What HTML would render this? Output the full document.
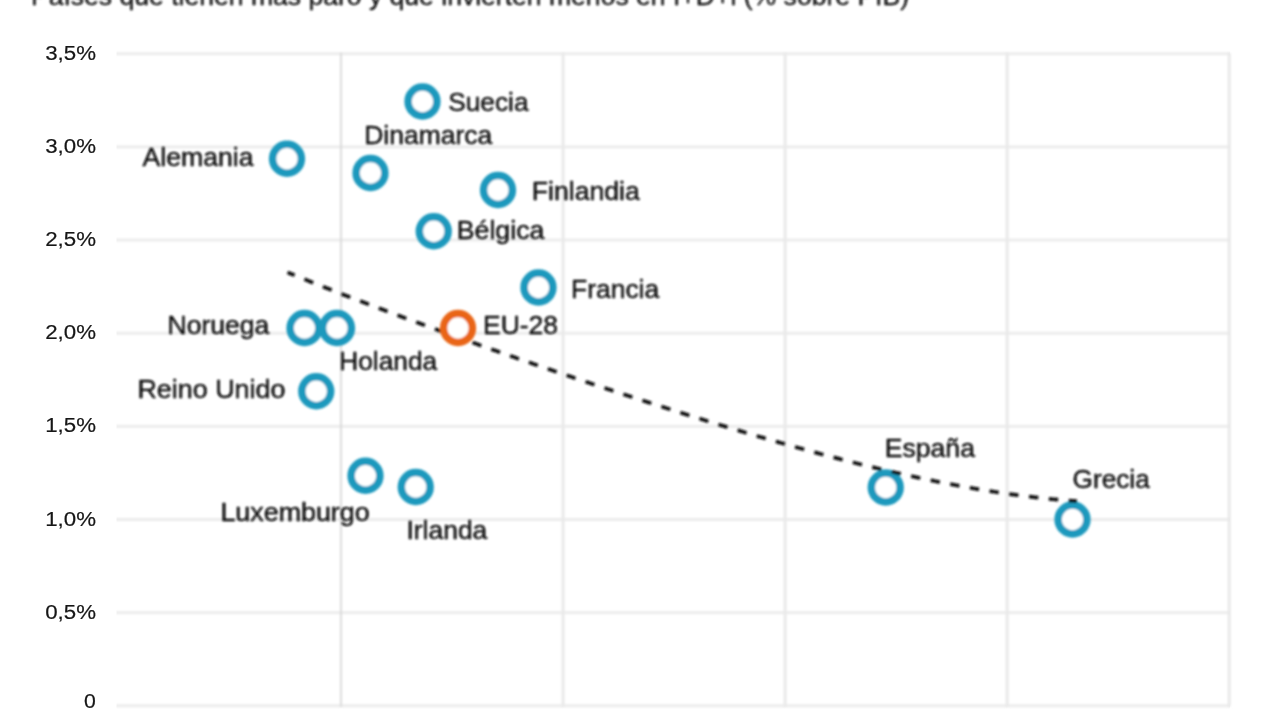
<!DOCTYPE html>
<html lang="es"><head><meta charset="utf-8"><title>I+D+i y paro</title>
<style>html,body{margin:0;padding:0;background:#fff;overflow:hidden}body{width:1280px;height:720px;position:relative;font-family:"Liberation Sans",sans-serif}svg{position:absolute;left:0;top:0;display:block}text{font-family:"Liberation Sans",sans-serif;fill:#0c0c0c;stroke:#0c0c0c;stroke-width:0.4px;stroke-linejoin:round}</style></head><body>
<svg width="1280" height="720" viewBox="0 0 1280 720">
<defs><filter id="b" x="-5%" y="-5%" width="110%" height="110%"><feGaussianBlur stdDeviation="0.8"/></filter><filter id="b2" x="-5%" y="-5%" width="110%" height="110%"><feGaussianBlur stdDeviation="0.6"/></filter><filter id="bh" x="-1%" y="-200%" width="102%" height="500%"><feGaussianBlur stdDeviation="0 1.1"/></filter></defs>
<rect width="1280" height="720" fill="#ffffff"/>
<g filter="url(#bh)">
<rect x="116.5" y="52.35" width="1113.5" height="2.8" fill="#ebebeb"/>
<rect x="116.5" y="145.50" width="1113.5" height="2.8" fill="#ebebeb"/>
<rect x="116.5" y="238.65" width="1113.5" height="2.8" fill="#ebebeb"/>
<rect x="116.5" y="331.80" width="1113.5" height="2.8" fill="#ebebeb"/>
<rect x="116.5" y="424.95" width="1113.5" height="2.8" fill="#ebebeb"/>
<rect x="116.5" y="518.10" width="1113.5" height="2.8" fill="#ebebeb"/>
<rect x="116.5" y="611.25" width="1113.5" height="2.8" fill="#ebebeb"/>
<rect x="116.5" y="704.40" width="1113.5" height="2.8" fill="#ebebeb"/>
</g>
<g filter="url(#b)">
<rect x="340.15" y="53" width="1.7" height="653.5" fill="#d8d8d8"/>
<rect x="561.55" y="53" width="3" height="653.5" fill="#e9e9e9"/>
<rect x="783.60" y="53" width="3" height="653.5" fill="#e9e9e9"/>
<rect x="1005.65" y="53" width="3" height="653.5" fill="#e9e9e9"/>
<rect x="1227.70" y="53" width="3" height="653.5" fill="#e9e9e9"/>
</g>
<g filter="url(#b2)">
<text transform="translate(45.21 59.85) scale(1.0760 1)" font-size="20.70" style="stroke-width:0.2px;fill:#161616;stroke:#161616">3,5%</text>
<text transform="translate(45.21 153.00) scale(1.0760 1)" font-size="20.70" style="stroke-width:0.2px;fill:#161616;stroke:#161616">3,0%</text>
<text transform="translate(45.21 246.15) scale(1.0760 1)" font-size="20.70" style="stroke-width:0.2px;fill:#161616;stroke:#161616">2,5%</text>
<text transform="translate(45.21 339.30) scale(1.0760 1)" font-size="20.70" style="stroke-width:0.2px;fill:#161616;stroke:#161616">2,0%</text>
<text transform="translate(45.21 432.45) scale(1.0760 1)" font-size="20.70" style="stroke-width:0.2px;fill:#161616;stroke:#161616">1,5%</text>
<text transform="translate(45.21 525.60) scale(1.0760 1)" font-size="20.70" style="stroke-width:0.2px;fill:#161616;stroke:#161616">1,0%</text>
<text transform="translate(45.21 618.75) scale(1.0760 1)" font-size="20.70" style="stroke-width:0.2px;fill:#161616;stroke:#161616">0,5%</text>
<text transform="translate(84.05 708.40) scale(1.0266 1)" font-size="20.70" style="stroke-width:0.2px;fill:#161616;stroke:#161616">0</text>
</g>
<g filter="url(#b)">
<text transform="translate(30.97 4.70) scale(1.0025 1)" font-size="26.50" style="stroke-width:0.3px">Países que tienen más paro y que invierten menos en I+D+i (% sobre PIB)</text>
<circle cx="422.50" cy="101.50" r="14.4" fill="#ffffff" stroke="#1f99bd" stroke-width="7.5"/>
<circle cx="287.00" cy="158.75" r="14.4" fill="#ffffff" stroke="#1f99bd" stroke-width="7.5"/>
<circle cx="370.50" cy="173.00" r="14.4" fill="#ffffff" stroke="#1f99bd" stroke-width="7.5"/>
<circle cx="498.00" cy="190.00" r="14.4" fill="#ffffff" stroke="#1f99bd" stroke-width="7.5"/>
<circle cx="433.75" cy="231.25" r="14.4" fill="#ffffff" stroke="#1f99bd" stroke-width="7.5"/>
<circle cx="538.50" cy="287.50" r="14.4" fill="#ffffff" stroke="#1f99bd" stroke-width="7.5"/>
<circle cx="304.50" cy="328.00" r="14.4" fill="#ffffff" stroke="#1f99bd" stroke-width="7.5"/>
<circle cx="337.00" cy="328.00" r="14.4" fill="#ffffff" stroke="#1f99bd" stroke-width="7.5"/>
<circle cx="316.25" cy="391.25" r="14.4" fill="#ffffff" stroke="#1f99bd" stroke-width="7.5"/>
<circle cx="365.50" cy="475.75" r="14.4" fill="#ffffff" stroke="#1f99bd" stroke-width="7.5"/>
<circle cx="415.75" cy="487.00" r="14.4" fill="#ffffff" stroke="#1f99bd" stroke-width="7.5"/>
<circle cx="885.75" cy="487.50" r="14.4" fill="#ffffff" stroke="#1f99bd" stroke-width="7.5"/>
<circle cx="1072.50" cy="519.50" r="14.4" fill="#ffffff" stroke="#1f99bd" stroke-width="7.5"/>
<path d="M287.50 272.38 L289.48 273.19 L291.46 273.99 L293.44 274.80 L295.41 275.60 L297.39 276.40 L299.37 277.20 L301.35 278.00 L303.33 278.79 L305.31 279.59 L307.29 280.38 L309.27 281.17 L311.24 281.96 L313.22 282.75 L315.20 283.54 L317.18 284.33 L319.16 285.11 L321.14 285.89 L323.12 286.68 L325.10 287.46 L327.07 288.24 L329.05 289.01 L331.03 289.79 L333.01 290.57 L334.99 291.34 L336.97 292.11 L338.95 292.89 L340.92 293.66 L342.90 294.43 L344.88 295.19 L346.86 295.96 L348.84 296.73 L350.82 297.49 L352.80 298.25 L354.78 299.02 L356.75 299.78 L358.73 300.54 L360.71 301.29 L362.69 302.05 L364.67 302.81 L366.65 303.56 L368.63 304.32 L370.61 305.07 L372.58 305.82 L374.56 306.57 L376.54 307.32 L378.52 308.07 L380.50 308.82 L382.48 309.56 L384.46 310.31 L386.43 311.05 L388.41 311.80 L390.39 312.54 L392.37 313.28 L394.35 314.02 L396.33 314.76 L398.31 315.50 L400.29 316.23 L402.26 316.97 L404.24 317.71 L406.22 318.44 L408.20 319.17 L410.18 319.91 L412.16 320.64 L414.14 321.37 L416.12 322.10 L418.09 322.83 L420.07 323.55 L422.05 324.28 L424.03 325.01 L426.01 325.73 L427.99 326.46 L429.97 327.18 L431.94 327.90 L433.92 328.62 L435.90 329.35 L437.88 330.07 L439.86 330.78 L441.84 331.50 L443.82 332.22 L445.80 332.94 L447.77 333.65 L449.75 334.37 L451.73 335.08 L453.71 335.79 L455.69 336.51 L457.67 337.22 L459.65 337.93 L461.63 338.64 L463.60 339.35 L465.58 340.06 L467.56 340.77 L469.54 341.47 L471.52 342.18 L473.50 342.88 L475.48 343.59 L477.45 344.29 L479.43 345.00 L481.41 345.70 L483.39 346.40 L485.37 347.10 L487.35 347.80 L489.33 348.50 L491.31 349.20 L493.28 349.90 L495.26 350.60 L497.24 351.29 L499.22 351.99 L501.20 352.68 L503.18 353.38 L505.16 354.07 L507.14 354.76 L509.11 355.46 L511.09 356.15 L513.07 356.84 L515.05 357.53 L517.03 358.22 L519.01 358.91 L520.99 359.59 L522.96 360.28 L524.94 360.97 L526.92 361.65 L528.90 362.34 L530.88 363.02 L532.86 363.71 L534.84 364.39 L536.82 365.07 L538.79 365.75 L540.77 366.44 L542.75 367.12 L544.73 367.80 L546.71 368.47 L548.69 369.15 L550.67 369.83 L552.65 370.51 L554.62 371.18 L556.60 371.86 L558.58 372.53 L560.56 373.21 L562.54 373.88 L564.52 374.55 L566.50 375.22 L568.47 375.89 L570.45 376.56 L572.43 377.23 L574.41 377.90 L576.39 378.57 L578.37 379.24 L580.35 379.91 L582.33 380.57 L584.30 381.24 L586.28 381.90 L588.26 382.57 L590.24 383.23 L592.22 383.89 L594.20 384.55 L596.18 385.21 L598.16 385.87 L600.13 386.53 L602.11 387.19 L604.09 387.85 L606.07 388.51 L608.05 389.16 L610.03 389.82 L612.01 390.47 L613.98 391.13 L615.96 391.78 L617.94 392.43 L619.92 393.09 L621.90 393.74 L623.88 394.39 L625.86 395.04 L627.84 395.69 L629.81 396.33 L631.79 396.98 L633.77 397.63 L635.75 398.27 L637.73 398.92 L639.71 399.56 L641.69 400.20 L643.67 400.85 L645.64 401.49 L647.62 402.13 L649.60 402.77 L651.58 403.40 L653.56 404.04 L655.54 404.68 L657.52 405.32 L659.49 405.95 L661.47 406.58 L663.45 407.22 L665.43 407.85 L667.41 408.48 L669.39 409.11 L671.37 409.74 L673.35 410.37 L675.32 411.00 L677.30 411.63 L679.28 412.25 L681.26 412.88 L683.24 413.50 L685.22 414.12 L687.20 414.75 L689.18 415.37 L691.15 415.99 L693.13 416.61 L695.11 417.22 L697.09 417.84 L699.07 418.46 L701.05 419.07 L703.03 419.69 L705.01 420.30 L706.98 420.91 L708.96 421.52 L710.94 422.13 L712.92 422.74 L714.90 423.35 L716.88 423.95 L718.86 424.56 L720.83 425.16 L722.81 425.76 L724.79 426.37 L726.77 426.97 L728.75 427.57 L730.73 428.16 L732.71 428.76 L734.69 429.36 L736.66 429.95 L738.64 430.55 L740.62 431.14 L742.60 431.73 L744.58 432.32 L746.56 432.91 L748.54 433.49 L750.52 434.08 L752.49 434.66 L754.47 435.25 L756.45 435.83 L758.43 436.41 L760.41 436.99 L762.39 437.57 L764.37 438.14 L766.34 438.72 L768.32 439.29 L770.30 439.86 L772.28 440.44 L774.26 441.00 L776.24 441.57 L778.22 442.14 L780.20 442.70 L782.17 443.27 L784.15 443.83 L786.13 444.39 L788.11 444.95 L790.09 445.51 L792.07 446.06 L794.05 446.62 L796.03 447.17 L798.00 447.72 L799.98 448.27 L801.96 448.82 L803.94 449.37 L805.92 449.91 L807.90 450.45 L809.88 451.00 L811.85 451.54 L813.83 452.07 L815.81 452.61 L817.79 453.14 L819.77 453.68 L821.75 454.21 L823.73 454.74 L825.71 455.27 L827.68 455.79 L829.66 456.32 L831.64 456.84 L833.62 457.36 L835.60 457.88 L837.58 458.39 L839.56 458.91 L841.54 459.42 L843.51 459.93 L845.49 460.44 L847.47 460.95 L849.45 461.45 L851.43 461.95 L853.41 462.46 L855.39 462.95 L857.36 463.45 L859.34 463.95 L861.32 464.44 L863.30 464.93 L865.28 465.42 L867.26 465.90 L869.24 466.39 L871.22 466.87 L873.19 467.35 L875.17 467.83 L877.15 468.30 L879.13 468.78 L881.11 469.25 L883.09 469.72 L885.07 470.18 L887.05 470.65 L889.02 471.11 L891.00 471.57 L892.98 472.02 L894.96 472.48 L896.94 472.93 L898.92 473.38 L900.90 473.83 L902.87 474.27 L904.85 474.72 L906.83 475.15 L908.81 475.59 L910.79 476.03 L912.77 476.46 L914.75 476.89 L916.73 477.32 L918.70 477.74 L920.68 478.16 L922.66 478.58 L924.64 479.00 L926.62 479.41 L928.60 479.82 L930.58 480.23 L932.56 480.64 L934.53 481.04 L936.51 481.44 L938.49 481.84 L940.47 482.23 L942.45 482.62 L944.43 483.01 L946.41 483.39 L948.38 483.78 L950.36 484.16 L952.34 484.53 L954.32 484.91 L956.30 485.28 L958.28 485.65 L960.26 486.01 L962.24 486.37 L964.21 486.73 L966.19 487.08 L968.17 487.44 L970.15 487.79 L972.13 488.13 L974.11 488.47 L976.09 488.81 L978.07 489.15 L980.04 489.48 L982.02 489.81 L984.00 490.14 L985.98 490.46 L987.96 490.78 L989.94 491.09 L991.92 491.40 L993.89 491.71 L995.87 492.02 L997.85 492.32 L999.83 492.62 L1001.81 492.91 L1003.79 493.20 L1005.77 493.49 L1007.75 493.77 L1009.72 494.05 L1011.70 494.33 L1013.68 494.60 L1015.66 494.87 L1017.64 495.14 L1019.62 495.40 L1021.60 495.66 L1023.58 495.91 L1025.55 496.16 L1027.53 496.41 L1029.51 496.65 L1031.49 496.89 L1033.47 497.12 L1035.45 497.35 L1037.43 497.58 L1039.40 497.80 L1041.38 498.02 L1043.36 498.23 L1045.34 498.44 L1047.32 498.64 L1049.30 498.85 L1051.28 499.04 L1053.26 499.24 L1055.23 499.42 L1057.21 499.61 L1059.19 499.79 L1061.17 499.96 L1063.15 500.13 L1065.13 500.30 L1067.11 500.46 L1069.09 500.62 L1071.06 500.77 L1073.04 500.92 L1075.02 501.07 L1077.00 501.21" fill="none" stroke="#111111" stroke-width="3.7" stroke-dasharray="9.4 10.55" stroke-dashoffset="1.7"/>
<circle cx="458.00" cy="328.00" r="14.4" fill="#ffffff" stroke="#e96515" stroke-width="7.5"/>
<text transform="translate(448.19 111.25) scale(0.9923 1)" font-size="26.50">Suecia</text>
<text transform="translate(142.60 166.00) scale(1.0049 1)" font-size="26.50">Alemania</text>
<text transform="translate(364.23 143.75) scale(0.9993 1)" font-size="26.50">Dinamarca</text>
<text transform="translate(531.72 199.50) scale(1.0055 1)" font-size="26.50">Finlandia</text>
<text transform="translate(456.71 238.75) scale(1.0088 1)" font-size="26.50">Bélgica</text>
<text transform="translate(570.98 298.25) scale(0.9991 1)" font-size="26.50">Francia</text>
<text transform="translate(482.98 333.75) scale(0.9998 1)" font-size="26.50">EU-28</text>
<text transform="translate(167.48 333.75) scale(1.0016 1)" font-size="26.50">Noruega</text>
<text transform="translate(339.24 369.50) scale(0.9930 1)" font-size="26.50">Holanda</text>
<text transform="translate(137.45 398.00) scale(1.0156 1)" font-size="26.50">Reino Unido</text>
<text transform="translate(220.45 521.25) scale(1.0131 1)" font-size="26.50">Luxemburgo</text>
<text transform="translate(406.47 539.25) scale(0.9980 1)" font-size="26.50">Irlanda</text>
<text transform="translate(884.72 457.00) scale(1.0038 1)" font-size="26.50">España</text>
<text transform="translate(1072.54 487.50) scale(0.9896 1)" font-size="26.50">Grecia</text>
</g></svg></body></html>
